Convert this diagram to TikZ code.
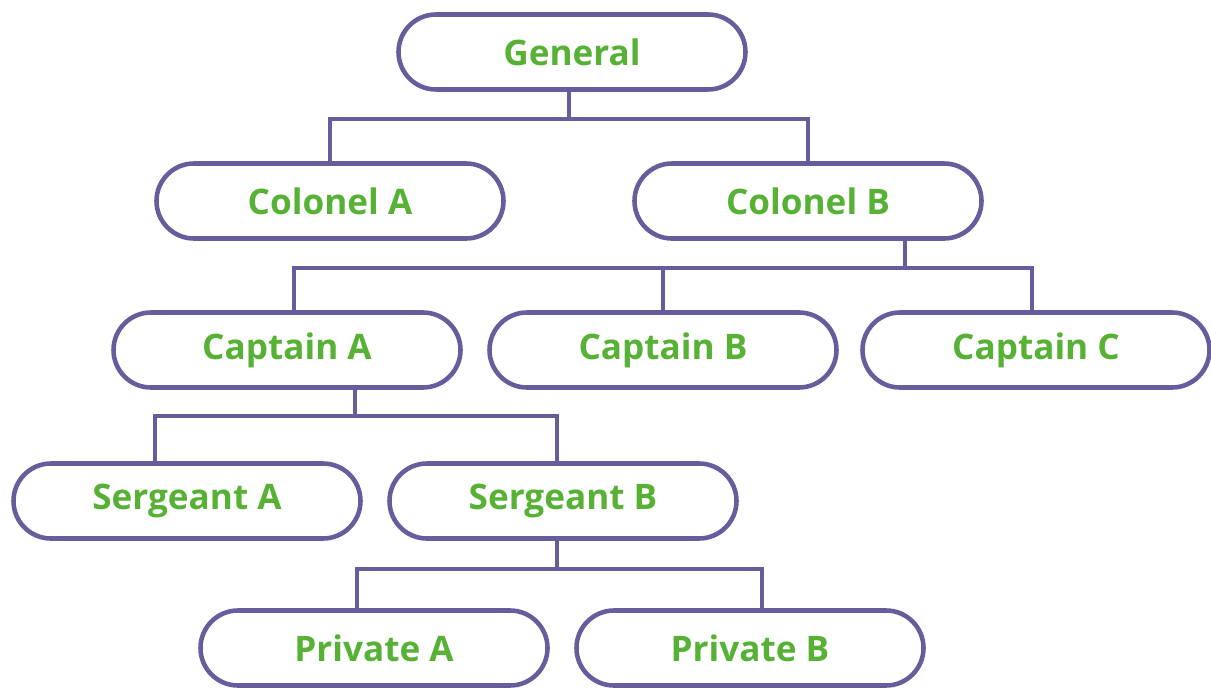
\documentclass[tikz,border=0pt]{standalone}
\usepackage{fontspec}
\setsansfont{Open Sans}
\definecolor{rankline}{HTML}{675C9C}
\definecolor{ranktext}{HTML}{56B135}
\begin{document}
\begin{tikzpicture}
        [line width=2.6pt, draw=rankline,
         every node/.style={draw=rankline,line width=2.6pt,rounded corners=0.75cm,
           minimum width=6.94cm,minimum height=1.5cm,text=ranktext,
           font=\sffamily\bfseries\fontsize{20}{24}\selectfont},
         link/.style={draw=rankline,line width=2.6pt}]
        \useasboundingbox (0,0) rectangle (24.22,-13.80);

        % top
        \node  (General) at  (11.44,-1.04)   {General};

        % colonels
        \node  (ColA) at     (6.60,-4.02)    {Colonel A};
        \node  (ColB) at     (16.16,-4.02)   {Colonel B};

        % captains
        \node  (CapA) at     (5.74,-7.00)    {Captain A};
        \node  (CapB) at     (13.26,-7.00)   {Captain B};
        \node  (CapC) at     (20.72,-7.00)   {Captain C};

        % sergeants
        \node  (SgtA) at     (3.74,-10.02)   {Sergeant A};
        \node  (SgtB) at     (11.26,-10.02)  {Sergeant B};

        % privates
        \node  (PvtA) at     (7.48,-12.96)   {Private A};
        \node  (PvtB) at     (15.00,-12.96)  {Private B};

        % junctions
        \coordinate (jGen)  at (11.38,-2.38);
        \coordinate (jColB) at (18.10,-5.36);
        \coordinate (jCapA) at (7.10,-8.32);
        \coordinate (jSgtB) at (11.14,-11.38);

        \draw[link] (General.south -| jGen) -- (jGen);
        \draw[link] (ColA.north) |- (jGen) -| (ColB.north);

        \draw[link] (ColB.south -| jColB) -- (jColB);
        \draw[link] ([xshift=0.14cm]CapA.north) |- (jColB) -| ([xshift=-0.08cm]CapC.north);
        \draw[link] (CapB.north) -- (CapB.north |- jColB);

        \draw[link] (CapA.south -| jCapA) -- (jCapA);
        \draw[link] ([xshift=-0.64cm]SgtA.north) |- (jCapA) -| ([xshift=-0.12cm]SgtB.north);

        \draw[link] (SgtB.south -| jSgtB) -- (jSgtB);
        \draw[link] ([xshift=-0.34cm]PvtA.north) |- (jSgtB) -| ([xshift=0.24cm]PvtB.north);
    \end{tikzpicture}
\end{document}
